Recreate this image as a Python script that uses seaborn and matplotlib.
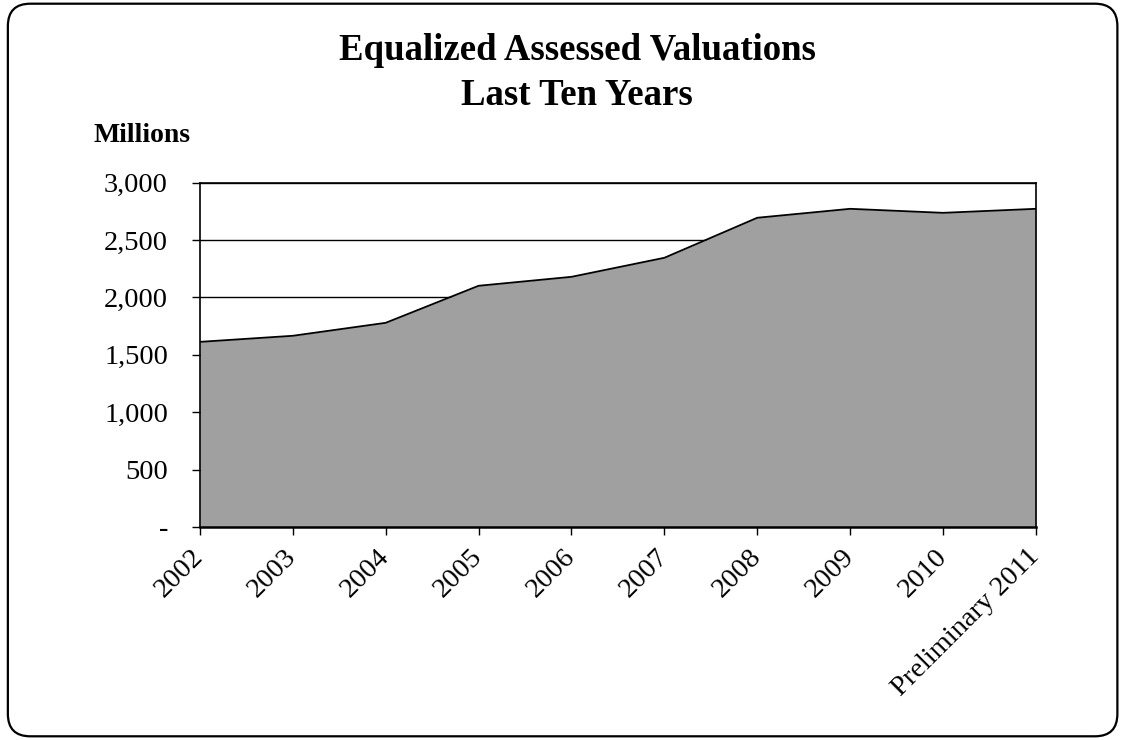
import numpy as np
import pandas as pd
import matplotlib
matplotlib.use("Agg")
import matplotlib.pyplot as plt
from matplotlib.patches import FancyBboxPatch
from matplotlib.ticker import FuncFormatter
import seaborn as sns

# values (millions)
years = ['2002', '2003', '2004', '2005', '2006', '2007', '2008', '2009', '2010', 'Preliminary 2011']
eav = [1613, 1666, 1779, 2102, 2180, 2346, 2695, 2773, 2738, 2773]
yticks = [0, 500, 1000, 1500, 2000, 2500, 3000]

df = pd.DataFrame({'pos': np.arange(len(years)), 'year': years, 'eav': eav})

sns.set_style("white")
plt.rcParams['font.family'] = ['Liberation Serif', 'DejaVu Serif']
plt.rcParams['text.color'] = 'black'
plt.rcParams['xtick.color'] = 'black'
plt.rcParams['ytick.color'] = 'black'

fig = plt.figure(figsize=(11.23, 7.40), dpi=100)
ax = fig.add_axes([0.178, 0.288, 0.7445, 0.465])

# grid lines behind the area
for v in yticks[1:]:
    ax.axhline(v, color='black', lw=1.0, zorder=0)

ax.fill_between(df['pos'], df['eav'], 0, color='#a0a0a0', zorder=1, lw=0)
sns.lineplot(data=df, x='pos', y='eav', color='black', lw=1.3, ax=ax, zorder=2)

ax.set_xlim(0, len(years) - 1)
ax.set_ylim(0, 3000)
ax.set_yticks(yticks)
ax.yaxis.set_major_formatter(FuncFormatter(lambda v, p: '-' if v == 0 else f'{int(v):,}'))
ax.set_xticks(df['pos'])
ax.set_xticklabels(years, rotation=45, ha='right', va='center', rotation_mode='anchor')
ax.tick_params(axis='both', direction='out', length=6, width=1,
               labelsize=20.5, bottom=True, left=True)
ax.tick_params(axis='y', pad=17)
ax.tick_params(axis='x', pad=13)
ax.set_xlabel('')
ax.set_ylabel('')
for s in ax.spines.values():
    s.set_color('black')
    s.set_linewidth(1.2)
ax.spines['bottom'].set_linewidth(1.8)

fig.text(0.514, 0.932, 'Equalized Assessed Valuations', ha='center', va='center',
         fontsize=26.5, fontweight='bold')
fig.text(0.514, 0.871, 'Last Ten Years', ha='center', va='center',
         fontsize=26.5, fontweight='bold')
fig.text(0.083, 0.817, 'Millions', ha='left', va='center', fontsize=20, fontweight='bold')

# rounded frame around the whole picture
frame = FancyBboxPatch((0.007, 0.005), 0.988, 0.99, boxstyle='round,pad=0,rounding_size=0.02',
                       transform=fig.transFigure, fill=False, ec='black', lw=1.6,
                       mutation_aspect=1123 / 740)
fig.patches.append(frame)

fig.savefig('out.png', dpi=100)
